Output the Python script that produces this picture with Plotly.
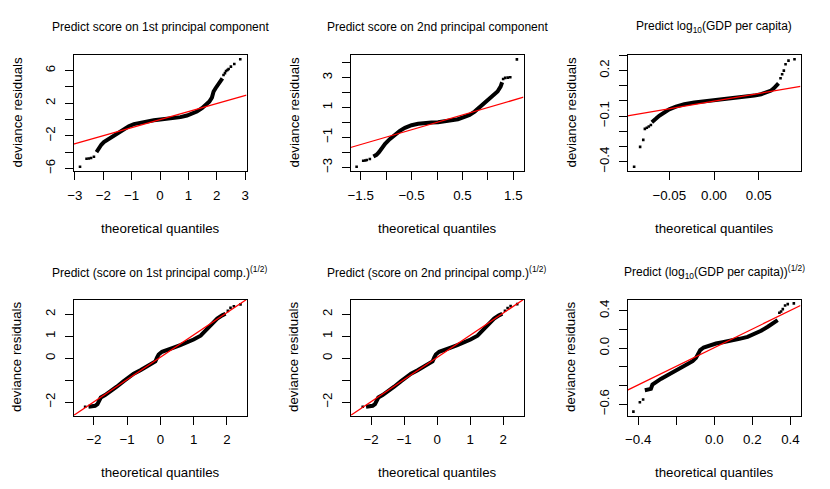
import plotly.graph_objects as go

FONT = "Liberation Sans, Arial, Helvetica, sans-serif"
W, H = 830, 489

# ---- data (theoretical quantile, deviance residual) ----
# panel 1: score on 1st principal component
pc1_x = [-2.24, -2.16, -2.07, -1.98, -1.80, -1.63, -1.45, -1.28, -1.10, -0.92, -0.69, -0.46, -0.22,
         0.01, 0.25, 0.48, 0.72, 0.95, 1.13, 1.30, 1.48, 1.62, 1.74, 1.83, 1.89, 1.96, 2.03, 2.13, 2.20]
pc1_y = [-4.00, -3.51, -3.10, -2.78, -2.37, -1.96, -1.55, -1.14, -0.82, -0.57, -0.37, -0.20, -0.08,
         0.00, 0.08, 0.16, 0.29, 0.49, 0.69, 0.98, 1.39, 1.80, 2.20, 2.69, 3.43, 3.84, 4.24, 4.65, 5.06]
pc1_tail_x = [-2.82, -2.59, -2.51, -2.43, -2.33, 2.24, 2.29, 2.33, 2.38, 2.42, 2.50, 2.62, 2.83]
pc1_tail_y = [-5.80, -4.82, -4.78, -4.73, -4.57, 5.47, 5.70, 5.96, 6.08, 6.20, 6.49, 6.82, 7.39]
pc1_ref_x = [-3.05, 3.05]
pc1_ref_y = [-3.02, 2.98]

# panel 2: score on 2nd principal component
pc2_x = [-1.25, -1.19, -1.14, -1.09, -1.02, -0.93, -0.83, -0.73, -0.63, -0.50, -0.37, -0.24, -0.11,
         0.02, 0.15, 0.28, 0.41, 0.54, 0.64, 0.74, 0.83, 0.93, 1.03, 1.13, 1.19, 1.25, 1.28]
pc2_y = [-2.27, -2.16, -1.98, -1.71, -1.42, -1.11, -0.82, -0.56, -0.36, -0.18, -0.09, -0.02, 0.00,
         0.02, 0.07, 0.11, 0.22, 0.38, 0.51, 0.73, 1.00, 1.29, 1.58, 1.84, 2.07, 2.40, 2.69]
pc2_tail_x = [-1.58, -1.45, -1.41, -1.38, -1.32, 1.30, 1.34, 1.39, 1.44, 1.57]
pc2_tail_y = [-2.96, -2.56, -2.54, -2.51, -2.44, 2.91, 2.98, 3.00, 3.02, 4.22]
pc2_ref_x = [-1.70, 1.70]
pc2_ref_y = [-1.67, 1.69]

# panel 3: log10(GDP per capita)
gdp_x = [-0.0694, -0.0668, -0.0650, -0.0612, -0.0556, -0.0500, -0.0425, -0.0332, -0.0220, -0.0108,
         0.0004, 0.0116, 0.0228, 0.0340, 0.0450, 0.0526, 0.0582, 0.0638, 0.0668, 0.0694, 0.0720]
gdp_y = [-0.140, -0.131, -0.118, -0.098, -0.074, -0.055, -0.037, -0.022, -0.011, -0.004,
         0.002, 0.009, 0.015, 0.024, 0.035, 0.044, 0.055, 0.068, 0.083, 0.096, 0.116]
gdp_tail_x = [-0.0892, -0.0825, -0.0790, -0.0772, -0.0750, -0.0728, -0.0705,
              0.0743, 0.0761, 0.0780, 0.0799, 0.0832, 0.0899]
gdp_tail_y = [-0.433, -0.302, -0.256, -0.184, -0.177, -0.168, -0.158,
              0.149, 0.175, 0.199, 0.241, 0.265, 0.274]
gdp_ref_x = [-0.0966, 0.0966]
gdp_ref_y = [-0.098, 0.096]

# panel 4: (score on 1st principal comp.)^(1/2)
sq1_x = [-2.16, -2.06, -1.96, -1.89, -1.83, -1.79, -1.66, -1.51, -1.31, -1.11, -0.95, -0.80, -0.60,
         -0.40, -0.25, -0.15, -0.10, -0.05, 0.05, 0.20, 0.40, 0.60, 0.80, 1.00, 1.21, 1.41, 1.56,
         1.71, 1.86, 1.96]
sq1_y = [-2.21, -2.20, -2.17, -2.09, -1.91, -1.79, -1.68, -1.53, -1.30, -1.06, -0.88, -0.71, -0.55,
         -0.39, -0.27, -0.15, 0.02, 0.17, 0.29, 0.39, 0.48, 0.59, 0.71, 0.85, 1.02, 1.35, 1.61,
         1.80, 1.95, 2.02]
sq1_tail_x = [-2.26, 2.03, 2.11, 2.21, 2.41]
sq1_tail_y = [-2.21, 2.15, 2.29, 2.36, 2.45]
sq1_ref_x = [-2.61, 2.59]
sq1_ref_y = [-2.61, 2.67]

# panel 5: (score on 2nd principal comp.)^(1/2)
sq2_x = [-2.15, -2.05, -1.95, -1.88, -1.82, -1.78, -1.65, -1.50, -1.30, -1.10, -0.94, -0.79, -0.59,
         -0.39, -0.24, -0.14, -0.09, -0.04, 0.06, 0.21, 0.41, 0.61, 0.81, 1.01, 1.22, 1.42, 1.57,
         1.72, 1.87, 1.97]
sq2_y = [-2.21, -2.20, -2.17, -2.09, -1.91, -1.79, -1.68, -1.53, -1.30, -1.06, -0.88, -0.71, -0.55,
         -0.39, -0.27, -0.15, 0.02, 0.17, 0.29, 0.39, 0.48, 0.59, 0.71, 0.85, 1.02, 1.35, 1.61,
         1.80, 1.95, 2.02]
sq2_tail_x = [-2.25, 2.05, 2.13, 2.22, 2.42]
sq2_tail_y = [-2.21, 2.16, 2.28, 2.37, 2.46]
sq2_ref_x = [-2.62, 2.61]
sq2_ref_y = [-2.61, 2.67]

# panel 6: (log10(GDP per capita))^(1/2)
sqg_x = [-0.365, -0.344, -0.333, -0.325, -0.307, -0.281, -0.246, -0.211, -0.175, -0.140, -0.114,
         -0.096, -0.084, -0.074, -0.056, -0.026, 0.009, 0.044, 0.088, 0.132, 0.175, 0.211, 0.246,
         0.281, 0.316, 0.333]
sqg_y = [-0.450, -0.446, -0.436, -0.389, -0.361, -0.329, -0.289, -0.250, -0.211, -0.171, -0.139,
         -0.104, -0.057, -0.021, 0.007, 0.032, 0.050, 0.064, 0.079, 0.100, 0.121, 0.150, 0.186,
         0.229, 0.271, 0.300]
sqg_tail_x = [-0.425, -0.391, -0.374, 0.342, 0.351, 0.360, 0.372, 0.386, 0.418]
sqg_tail_y = [-0.679, -0.579, -0.550, 0.379, 0.393, 0.418, 0.457, 0.471, 0.479]
sqg_ref_x = [-0.456, 0.453]
sqg_ref_y = [-0.450, 0.457]

titles = [
    "Predict score on 1st principal component",
    "Predict score on 2nd principal component",
    "Predict log<sub>10</sub>(GDP per capita)",
    "Predict (score on 1st principal comp.)<sup>(1/2)</sup>",
    "Predict (score on 2nd principal comp.)<sup>(1/2)</sup>",
    "Predict (log<sub>10</sub>(GDP per capita))<sup>(1/2)</sup>",
]

# axis ranges; labelled ticks and the unlabelled ticks in between (as in the reference)
x_ranges = [[-3.05, 3.05], [-1.70, 1.70], [-0.0966, 0.0966], [-2.61, 2.59], [-2.62, 2.61], [-0.456, 0.453]]
y_ranges = [[-6.32, 7.92], [-3.24, 4.51], [-0.461, 0.302], [-2.61, 2.67], [-2.61, 2.67], [-0.721, 0.521]]
x_tickvals = [[-3, -2, -1, 0, 1, 2, 3], [-1.5, -0.5, 0.5, 1.5], [-0.05, 0, 0.05],
              [-2, -1, 0, 1, 2], [-2, -1, 0, 1, 2], [-0.4, 0, 0.2, 0.4]]
x_ticktext = [["−3", "−2", "−1", "0", "1", "2", "3"], ["−1.5", "−0.5", "0.5", "1.5"],
              ["−0.05", "0.00", "0.05"], ["−2", "−1", "0", "1", "2"], ["−2", "−1", "0", "1", "2"],
              ["−0.4", "0.0", "0.2", "0.4"]]
x_minor = [[], [-1, 0, 1], [], [], [], [-0.2]]
y_tickvals = [[-6, -2, 2, 6], [-3, -1, 1, 3], [-0.4, -0.1, 0.2], [-2, 0, 1, 2], [-2, 0, 1, 2],
              [-0.6, 0, 0.4]]
y_ticktext = [["−6", "−2", "2", "6"], ["−3", "−1", "1", "3"], ["−0.4", "−0.1", "0.2"],
              ["−2", "0", "1", "2"], ["−2", "0", "1", "2"], ["−0.6", "0.0", "0.4"]]
y_minor = [[-4, 0, 4], [-2, 0, 2, 4], [-0.3, -0.2, 0, 0.1, 0.3], [-1], [-1], [-0.4, -0.2, 0.2]]

series = [
    (pc1_x, pc1_y, pc1_tail_x, pc1_tail_y, pc1_ref_x, pc1_ref_y),
    (pc2_x, pc2_y, pc2_tail_x, pc2_tail_y, pc2_ref_x, pc2_ref_y),
    (gdp_x, gdp_y, gdp_tail_x, gdp_tail_y, gdp_ref_x, gdp_ref_y),
    (sq1_x, sq1_y, sq1_tail_x, sq1_tail_y, sq1_ref_x, sq1_ref_y),
    (sq2_x, sq2_y, sq2_tail_x, sq2_tail_y, sq2_ref_x, sq2_ref_y),
    (sqg_x, sqg_y, sqg_tail_x, sqg_tail_y, sqg_ref_x, sqg_ref_y),
]

# plot boxes in pixels (left, right, top, bottom)
cols = [(73.5, 246.5), (350.5, 523.5), (627.5, 800.5)]
rows = [(55, 171), (299.5, 415.5)]

fig = go.Figure()
layout = dict(width=W, height=H, margin=dict(l=0, r=0, t=0, b=0, pad=0), showlegend=False,
              plot_bgcolor="white", paper_bgcolor="white", font=dict(family=FONT, color="black"))
annotations = []


def minor_ticks(vals):
    if not vals:
        return dict(ticks="")
    return dict(tickmode="array", tickvals=vals, ticks="outside", ticklen=8, tickwidth=1,
                tickcolor="black", showgrid=False)


for i, (dx, dy, tx, ty, rx, ry) in enumerate(series):
    r, c = divmod(i, 3)
    x0, x1 = cols[c]
    y0, y1 = rows[r]
    xa = "x" if i == 0 else "x%d" % (i + 1)
    ya = "y" if i == 0 else "y%d" % (i + 1)
    axis_common = dict(showline=True, mirror=True, linecolor="black", linewidth=1, ticks="outside",
                       ticklen=8, tickwidth=1, tickcolor="black", showgrid=False, zeroline=False,
                       tickfont=dict(size=13.3, family=FONT, color="black"), tickmode="array",
                       ticklabelstandoff=4, automargin=False)
    layout["xaxis" if i == 0 else "xaxis%d" % (i + 1)] = dict(
        axis_common, domain=[x0 / W, x1 / W], anchor=ya, range=x_ranges[i],
        tickvals=x_tickvals[i], ticktext=x_ticktext[i], minor=minor_ticks(x_minor[i]))
    layout["yaxis" if i == 0 else "yaxis%d" % (i + 1)] = dict(
        axis_common, domain=[1 - y1 / H, 1 - y0 / H], anchor=xa, range=y_ranges[i],
        tickvals=y_tickvals[i], ticktext=y_ticktext[i], tickangle=-90,
        minor=minor_ticks(y_minor[i]))

    fig.add_trace(go.Scatter(x=dx, y=dy, mode="lines", line=dict(color="black", width=4),
                             xaxis=xa, yaxis=ya, hoverinfo="skip"))
    fig.add_trace(go.Scatter(x=tx, y=ty, mode="markers",
                             marker=dict(color="black", size=2.6, symbol="square"),
                             xaxis=xa, yaxis=ya, hoverinfo="skip"))
    fig.add_trace(go.Scatter(x=rx, y=ry, mode="lines", line=dict(color="#ff0000", width=1.3),
                             xaxis=xa, yaxis=ya, hoverinfo="skip"))

    xc = (x0 + x1) / 2 / W
    annotations.append(dict(text=titles[i], x=xc, y=1 - (27 if r == 0 else 272) / H,
                            xref="paper", yref="paper", showarrow=False,
                            font=dict(size=12, family=FONT), xanchor="center", yanchor="middle"))
    annotations.append(dict(text="theoretical quantiles", x=xc, y=1 - (228 if r == 0 else 472) / H,
                            xref="paper", yref="paper", showarrow=False,
                            font=dict(size=13.3, family=FONT), xanchor="center", yanchor="middle"))
    annotations.append(dict(text="deviance residuals", x=(x0 - 57) / W, y=1 - (y0 + y1) / 2 / H,
                            xref="paper", yref="paper", showarrow=False, textangle=-90,
                            font=dict(size=13.3, family=FONT), xanchor="center", yanchor="middle"))

layout["annotations"] = annotations
fig.update_layout(**layout)
# page body has a default 8px margin; drop it so the figure sits at the window origin
fig.write_html("out.html", config={"displayModeBar": False},
               post_script="document.body.style.margin='0';")
